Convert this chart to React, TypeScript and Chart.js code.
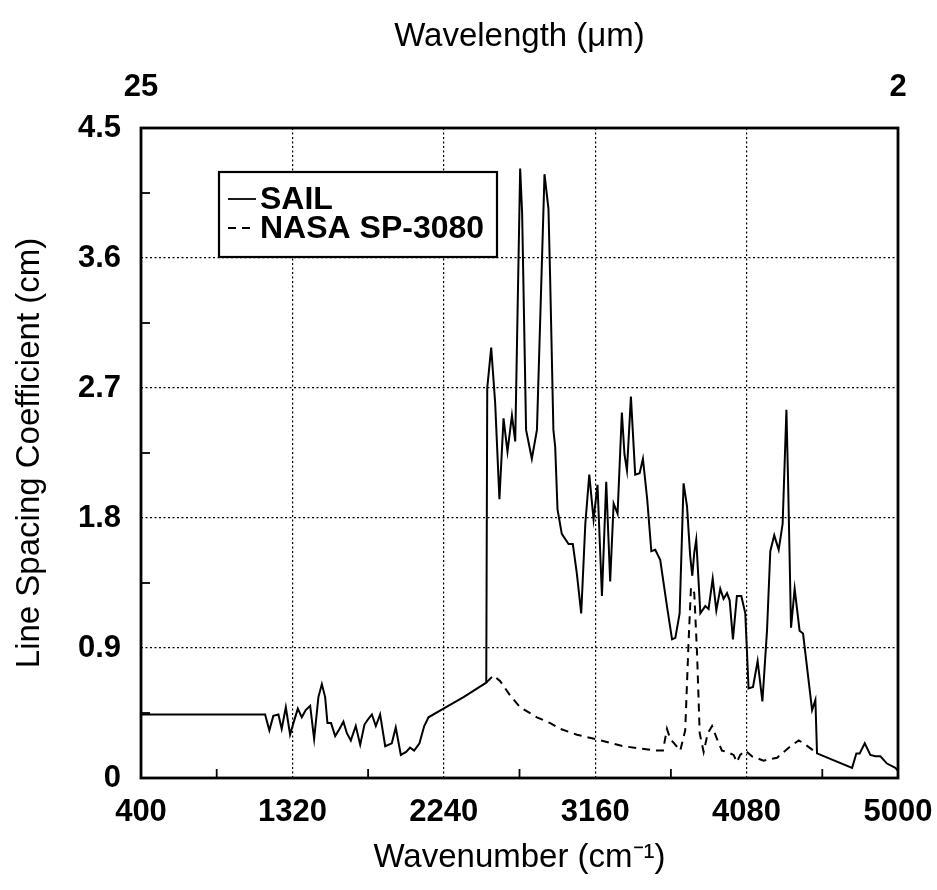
import React, { useEffect, useRef } from "react";
import { Chart, registerables } from "chart.js";

Chart.register(...registerables);

// Wavenumber (cm^-1) samples of the SAIL curve
const sailWavenumber = [
  400, 1154, 1180, 1204, 1235, 1255, 1280, 1306, 1326, 1353,
  1377, 1401, 1428, 1452, 1478, 1499, 1519, 1533, 1555, 1580,
  1606, 1630, 1651, 1675, 1705, 1732, 1758, 1782, 1803, 1827,
  1853, 1884, 1924, 1948, 1979, 2011, 2035, 2060, 2092, 2121,
  2147, 2238, 2360, 2498, 2504, 2528, 2552, 2578, 2603, 2627,
  2654, 2674, 2704, 2716, 2740, 2775, 2806, 2852, 2876, 2886,
  2906, 2917, 2931, 2957, 2998, 3024, 3048, 3075, 3100, 3124,
  3150, 3174, 3201, 3227, 3251, 3272, 3296, 3322, 3338, 3353,
  3377, 3403, 3430, 3450, 3476, 3501, 3525, 3555, 3596, 3627,
  3647, 3673, 3697, 3718, 3737, 3750, 3762, 3774, 3799, 3829,
  3849, 3874, 3896, 3920, 3940, 3961, 3977, 3997, 4021, 4048,
  4072, 4092, 4119, 4147, 4176, 4204, 4224, 4248, 4275, 4299,
  4322, 4332, 4350, 4372, 4402, 4423, 4478, 4498, 4508, 4721,
  4747, 4767, 4798, 4832, 4863, 4893, 4933, 4984, 5000,
];
// Line spacing coefficient (cm), SAIL
const sailValue = [
  0.44, 0.44, 0.33, 0.43, 0.44, 0.34, 0.49, 0.30, 0.38, 0.48,
  0.42, 0.47, 0.50, 0.27, 0.56, 0.65, 0.56, 0.38, 0.38, 0.29,
  0.34, 0.39, 0.31, 0.26, 0.36, 0.23, 0.37, 0.41, 0.44, 0.36,
  0.44, 0.22, 0.24, 0.35, 0.16, 0.18, 0.21, 0.19, 0.24, 0.36,
  0.42, 0.48, 0.56, 0.66, 2.70, 2.98, 2.60, 1.93, 2.49, 2.26,
  2.51, 2.33, 4.22, 3.91, 2.41, 2.21, 2.41, 4.18, 3.94, 3.47,
  2.41, 2.29, 1.86, 1.69, 1.62, 1.62, 1.42, 1.14, 1.76, 2.10,
  1.79, 2.03, 1.26, 2.05, 1.36, 1.90, 1.83, 2.53, 2.24, 2.13,
  2.64, 2.10, 2.11, 2.21, 1.93, 1.57, 1.58, 1.51, 1.19, 0.96,
  0.97, 1.14, 2.04, 1.88, 1.54, 1.40, 1.56, 1.65, 1.14, 1.19,
  1.17, 1.38, 1.16, 1.31, 1.24, 1.28, 1.23, 0.96, 1.26, 1.26,
  1.14, 0.62, 0.63, 0.81, 0.53, 1.02, 1.57, 1.68, 1.58, 1.76,
  2.55, 2.06, 1.04, 1.31, 1.02, 1.00, 0.47, 0.54, 0.17, 0.07,
  0.17, 0.17, 0.24, 0.16, 0.15, 0.15, 0.10, 0.07, 0.05,
];

// NASA SP-3080 curve
const nasaWavenumber = [
  2498, 2542, 2583, 2644, 2704, 2806, 2887, 2948, 3049, 3160,
  3332, 3525, 3572, 3596, 3616, 3640, 3677, 3707, 3728, 3742,
  3762, 3779, 3795, 3819, 3844, 3870, 3900, 3930, 3961, 4001,
  4021, 4041, 4072, 4113, 4183, 4265, 4346, 4397, 4427, 4498,
];
const nasaValue = [
  0.66, 0.71, 0.67, 0.57, 0.49, 0.42, 0.38, 0.34, 0.30, 0.27,
  0.22, 0.19, 0.19, 0.34, 0.27, 0.24, 0.19, 0.33, 0.96, 1.32,
  1.28, 0.86, 0.31, 0.18, 0.31, 0.36, 0.27, 0.19, 0.18, 0.16,
  0.11, 0.16, 0.19, 0.15, 0.12, 0.14, 0.22, 0.26, 0.24, 0.18,
];

const seriesLabels = ["SAIL", "NASA SP-3080"];
const xMajorTicks = [400, 1320, 2240, 3160, 4080, 5000];
const xMinorTicks = [860, 1780, 2700, 3620, 4540];
const yMajorTicks = [0, 0.9, 1.8, 2.7, 3.6, 4.5];
const yMinorTicks = [0.45, 1.35, 2.25, 3.15, 4.05];
const topTickWavenumbers = [400, 5000]; // 25 µm and 2 µm

const FONT = "'Liberation Sans', Arial, Helvetica, sans-serif";

const framePlugin = {
  id: "frameAndMinor",
  afterDatasetsDraw(chart: any) {
    const { ctx, chartArea: a, scales } = chart;
    ctx.save();
    ctx.strokeStyle = "#000";
    ctx.lineWidth = 1.8;
    const tl = 9;
    xMinorTicks.forEach((v) => {
      const px = scales.x.getPixelForValue(v);
      ctx.beginPath();
      ctx.moveTo(px, a.bottom);
      ctx.lineTo(px, a.bottom - tl);
      ctx.stroke();
    });
    yMinorTicks.forEach((v) => {
      const py = scales.y.getPixelForValue(v);
      ctx.beginPath();
      ctx.moveTo(a.left, py);
      ctx.lineTo(a.left + tl, py);
      ctx.stroke();
    });
    ctx.lineWidth = 2.8;
    ctx.strokeRect(a.left, a.top, a.right - a.left, a.bottom - a.top);

    // legend box
    const lx = a.left + 78;
    const ly = a.top + 44;
    const lw = 278;
    const lh = 85;
    ctx.fillStyle = "#fff";
    ctx.fillRect(lx, ly, lw, lh);
    ctx.lineWidth = 2.2;
    ctx.strokeRect(lx, ly, lw, lh);
    const rows = [ly + 27, ly + 56];
    chart.data.datasets.forEach((ds: any, i: number) => {
      ctx.beginPath();
      ctx.lineWidth = 1.8;
      ctx.setLineDash(ds.borderDash || []);
      ctx.moveTo(lx + 9, rows[i]);
      ctx.lineTo(lx + 37, rows[i]);
      ctx.stroke();
      ctx.setLineDash([]);
      ctx.fillStyle = "#000";
      ctx.font = `bold 32px ${FONT}`;
      ctx.textBaseline = "middle";
      ctx.textAlign = "left";
      ctx.fillText(ds.label, lx + 41, rows[i] + 1);
    });
    ctx.restore();
  },
};

const noHPad = (s: any) => {
  s.paddingLeft = 0;
  s.paddingRight = 0;
};

export default function App() {
  const ref = useRef<HTMLCanvasElement | null>(null);

  useEffect(() => {
    if (!ref.current) return;
    const sail = sailWavenumber.map((x, i) => ({ x, y: sailValue[i] }));
    const nasa = nasaWavenumber.map((x, i) => ({ x, y: nasaValue[i] }));
    const tickFont = { family: FONT, size: 31, weight: "bold" as const };
    const titleFont = { family: FONT, size: 33, weight: "normal" as const };

    const chart = new Chart(ref.current, {
      type: "line",
      data: {
        datasets: [
          {
            label: seriesLabels[0],
            data: sail,
            borderColor: "#000",
            borderWidth: 2,
            pointRadius: 0,
            tension: 0,
            fill: false,
          },
          {
            label: seriesLabels[1],
            data: nasa,
            borderColor: "#000",
            borderWidth: 2,
            borderDash: [8, 6],
            pointRadius: 0,
            tension: 0,
            fill: false,
          },
        ],
      },
      options: {
        responsive: false,
        animation: false,
        events: [],
        layout: { padding: { top: 0, left: 0, right: 39, bottom: 0 } },
        plugins: { legend: { display: false }, tooltip: { enabled: false } },
        scales: {
          x: {
            type: "linear",
            position: "bottom",
            min: 400,
            max: 5000,
            afterBuildTicks: (s: any) => {
              s.ticks = xMajorTicks.map((value) => ({ value }));
            },
            afterFit: (s: any) => {
              s.height = 112;
              noHPad(s);
            },
            ticks: {
              color: "#000",
              font: tickFont,
              padding: 16,
              maxRotation: 0,
              autoSkip: false,
              callback: (v: any) => String(v),
            },
            grid: { color: "#000", lineWidth: 1.2, drawTicks: false },
            border: { display: false, dash: [2, 2.5] },
            title: {
              display: true,
              text: "Wavenumber (cm⁻¹)",
              color: "#000",
              font: titleFont,
              padding: { top: 0, bottom: 12 },
            },
          },
          x2: {
            type: "linear",
            position: "top",
            min: 400,
            max: 5000,
            afterBuildTicks: (s: any) => {
              s.ticks = topTickWavenumbers.map((value) => ({ value }));
            },
            afterFit: (s: any) => {
              s.height = 128;
              noHPad(s);
            },
            ticks: {
              color: "#000",
              font: tickFont,
              padding: 22,
              maxRotation: 0,
              autoSkip: false,
              callback: (v: any) => String(Math.round(10000 / Number(v))),
            },
            grid: { display: false, drawTicks: false },
            border: { display: false },
            title: {
              display: true,
              text: "Wavelength (μm)",
              color: "#000",
              font: titleFont,
              padding: { top: 17, bottom: 0 },
            },
          },
          y: {
            type: "linear",
            min: 0,
            max: 4.5,
            afterBuildTicks: (s: any) => {
              s.ticks = yMajorTicks.map((value) => ({ value }));
            },
            afterFit: (s: any) => {
              s.width = 141;
              s.paddingTop = 0;
              s.paddingBottom = 0;
            },
            ticks: {
              color: "#000",
              font: tickFont,
              padding: 20,
              autoSkip: false,
              callback: (v: any) => (Number(v) === 0 ? "0" : Number(v).toFixed(1)),
            },
            grid: { color: "#000", lineWidth: 1.2, drawTicks: false },
            border: { display: false, dash: [2, 2.5] },
            title: {
              display: true,
              text: "Line Spacing Coefficient (cm)",
              color: "#000",
              font: titleFont,
              padding: { top: 10, bottom: 0 },
            },
          },
        },
      },
      plugins: [framePlugin],
    });
    return () => chart.destroy();
  }, []);

  return (
    <div style={{ position: "fixed", left: 0, top: 0, width: 937, height: 890, background: "#fff" }}>
      <canvas ref={ref} width={937} height={890} style={{ width: 937, height: 890, display: "block" }} />
    </div>
  );
}
